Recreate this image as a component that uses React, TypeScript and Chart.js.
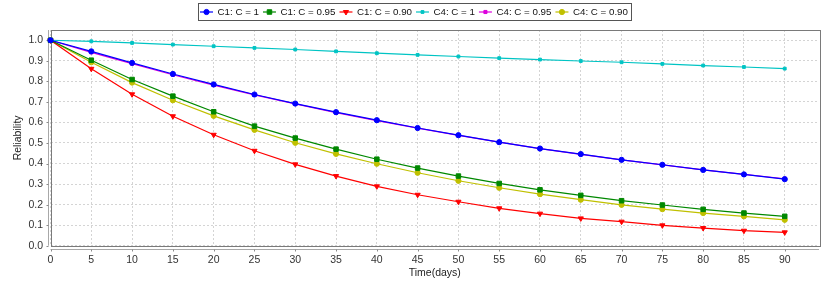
import React, { useEffect, useRef } from 'react';
import { Chart, registerables } from 'chart.js';
import { drawPoint } from 'chart.js/helpers';

Chart.register(...registerables);

const days = [0, 5, 10, 15, 20, 25, 30, 35, 40, 45, 50, 55, 60, 65, 70, 75, 80, 85, 90];

const seriesLabels = ['C1: C = 1', 'C1: C = 0.95', 'C1: C = 0.90', 'C4: C = 1', 'C4: C = 0.95', 'C4: C = 0.90'];

const c1C100 = [1, 0.946, 0.89, 0.836, 0.785, 0.736, 0.692, 0.65, 0.611, 0.573, 0.538, 0.504, 0.473, 0.446, 0.418, 0.394, 0.369, 0.347, 0.324];
const c1C095 = [1, 0.903, 0.809, 0.728, 0.652, 0.582, 0.524, 0.47, 0.421, 0.378, 0.339, 0.303, 0.272, 0.245, 0.219, 0.198, 0.177, 0.159, 0.143];
const c1C090 = [1, 0.861, 0.737, 0.63, 0.54, 0.462, 0.396, 0.339, 0.289, 0.248, 0.214, 0.182, 0.156, 0.133, 0.117, 0.099, 0.086, 0.073, 0.065];
const c4C100 = [1, 0.995, 0.987, 0.979, 0.971, 0.963, 0.955, 0.946, 0.937, 0.929, 0.921, 0.913, 0.906, 0.899, 0.893, 0.885, 0.877, 0.87, 0.862];
const c4C095 = [1, 0.941, 0.886, 0.832, 0.782, 0.734, 0.69, 0.648, 0.609, 0.572, 0.537, 0.504, 0.473, 0.445, 0.418, 0.393, 0.369, 0.347, 0.326];
const c4C090 = [1, 0.893, 0.794, 0.708, 0.632, 0.564, 0.501, 0.447, 0.399, 0.355, 0.316, 0.282, 0.251, 0.224, 0.199, 0.178, 0.159, 0.143, 0.126];

const seriesValues = [c1C100, c1C095, c1C090, c4C100, c4C095, c4C090];
const seriesColors = ['#0000ff', '#008800', '#ff0000', '#00c4c4', '#dd00dd', '#c0c000'];
const seriesShapes = ['circle', 'rect', 'triangle', 'rect', 'rect', 'circle'];
const seriesRotation = [0, 0, 180, 0, 0, 0];
const seriesRadius = [2.6, 3.2, 3, 2, 2.2, 2.6];

const xTitle = 'Time(days)';
const yTitle = 'Reliability';

const FONT = '"Liberation Sans", Arial, Helvetica, sans-serif';

const frameAxesPlugin = {
  id: 'frameAxes',
  beforeDatasetsDraw(chart: any) {
    const { ctx, chartArea, scales } = chart;
    const { left, right, top, bottom } = chartArea;
    ctx.save();
    ctx.strokeStyle = '#7a7a7a';
    ctx.lineWidth = 1;
    ctx.strokeRect(Math.round(left) + 0.5, Math.round(top) + 0.5, Math.round(right - left), Math.round(bottom - top));
    ctx.strokeStyle = '#a8a8a8';
    const ax = Math.round(left) - 2.5;
    const ay = Math.round(bottom) + 3.5;
    ctx.beginPath();
    ctx.moveTo(ax, top);
    ctx.lineTo(ax, bottom);
    ctx.moveTo(left, ay);
    ctx.lineTo(right, ay);
    ctx.stroke();
    ctx.strokeStyle = '#8a8a8a';
    ctx.beginPath();
    scales.y.ticks.forEach((t: any) => {
      const y = Math.round(scales.y.getPixelForValue(t.value)) + 0.5;
      ctx.moveTo(ax - 2, y);
      ctx.lineTo(ax, y);
    });
    scales.x.ticks.forEach((t: any) => {
      const x = Math.round(scales.x.getPixelForValue(t.value)) + 0.5;
      ctx.moveTo(x, ay);
      ctx.lineTo(x, ay + 2);
    });
    ctx.stroke();
    ctx.restore();
  },
};

const boxLegendPlugin = {
  id: 'boxLegend',
  afterDraw(chart: any) {
    const { ctx } = chart;
    const datasets = chart.data.datasets;
    ctx.save();
    ctx.font = `9.75px ${FONT}`;
    const lineLen = 13;
    const gapText = 4.5;
    const gapItem = 4;
    const widths = datasets.map((d: any) => ctx.measureText(d.label).width);
    let total = 2;
    widths.forEach((w: number) => {
      total += lineLen + gapText + w + gapItem;
    });
    const boxW = Math.round(total);
    const boxX = Math.round((chart.width - boxW) / 2);
    const boxY = 3;
    const boxH = 18;
    ctx.fillStyle = '#ffffff';
    ctx.fillRect(boxX, boxY, boxW, boxH);
    ctx.strokeStyle = '#555555';
    ctx.lineWidth = 1;
    ctx.strokeRect(boxX + 0.5, boxY + 0.5, boxW - 1, boxH - 1);
    let x = boxX + 2;
    const cy = boxY + boxH / 2;
    datasets.forEach((d: any, i: number) => {
      ctx.strokeStyle = d.borderColor;
      ctx.fillStyle = d.borderColor;
      ctx.lineWidth = 1.2;
      ctx.beginPath();
      ctx.moveTo(x, cy);
      ctx.lineTo(x + lineLen, cy);
      ctx.stroke();
      ctx.lineWidth = 1;
      drawPoint(ctx, { pointStyle: d.pointStyle, rotation: d.pointRotation || 0, radius: d.pointRadius, borderWidth: 1 }, x + lineLen / 2, cy);
      ctx.fillStyle = '#111111';
      ctx.textBaseline = 'middle';
      ctx.textAlign = 'left';
      ctx.fillText(d.label, x + lineLen + gapText, cy + 0.5);
      x += lineLen + gapText + widths[i] + gapItem;
    });
    ctx.restore();
  },
};

export default function App() {
  const canvasRef = useRef<HTMLCanvasElement | null>(null);

  useEffect(() => {
    if (!canvasRef.current) return;
    const datasets = seriesLabels.map((label, i) => ({
      label,
      data: days.map((d, j) => ({ x: d, y: seriesValues[i][j] })),
      borderColor: seriesColors[i],
      backgroundColor: seriesColors[i],
      pointBackgroundColor: seriesColors[i],
      pointBorderColor: seriesColors[i],
      pointStyle: seriesShapes[i],
      pointRotation: seriesRotation[i],
      pointRadius: seriesRadius[i],
      pointBorderWidth: 1,
      borderWidth: 1.2,
      tension: 0,
      fill: false,
      clip: false as any,
    }));

    const chart = new Chart(canvasRef.current, {
      type: 'line',
      data: { datasets },
      options: {
        responsive: false,
        animation: false,
        devicePixelRatio: 1,
        layout: { padding: { top: 30, right: 11, bottom: 0, left: 0 } },
        plugins: {
          legend: { display: false },
          tooltip: { enabled: false },
        },
        scales: {
          x: {
            type: 'linear',
            min: 0,
            max: 94.2,
            afterFit(scale: any) {
              scale.height = 42.3;
            },
            ticks: {
              stepSize: 5,
              includeBounds: false,
              padding: 8,
              maxRotation: 0,
              autoSkip: false,
              color: '#333333',
              font: { family: FONT, size: 10.5 },
              callback: (v: any) => String(v),
            },
            grid: { color: '#d4d4d4', lineWidth: 1, drawTicks: false },
            border: { display: false, dash: [2, 2] },
            title: {
              display: true,
              text: xTitle,
              color: '#222222',
              font: { family: FONT, size: 10.5 },
              padding: { top: 0, bottom: 8.7 },
            },
          },
          y: {
            type: 'linear',
            min: 0,
            max: 1.05,
            afterFit(scale: any) {
              scale.width = 50.5;
            },
            ticks: {
              stepSize: 0.1,
              includeBounds: false,
              padding: 7.5,
              color: '#333333',
              font: { family: FONT, size: 10.5 },
              callback: (v: any) => Number(v).toFixed(1),
            },
            grid: { color: '#d4d4d4', lineWidth: 1, drawTicks: false },
            border: { display: false, dash: [2, 2] },
            title: {
              display: true,
              text: yTitle,
              color: '#222222',
              font: { family: FONT, size: 10.5 },
              padding: { top: 11.5, bottom: 0 },
            },
          },
        },
      },
      plugins: [frameAxesPlugin, boxLegendPlugin],
    });
    return () => chart.destroy();
  }, []);

  return (
    <div style={{ position: 'absolute', left: 0, top: 0, width: 830, height: 288, background: '#ffffff' }}>
      <canvas ref={canvasRef} width={830} height={288} style={{ display: 'block' }} />
    </div>
  );
}
